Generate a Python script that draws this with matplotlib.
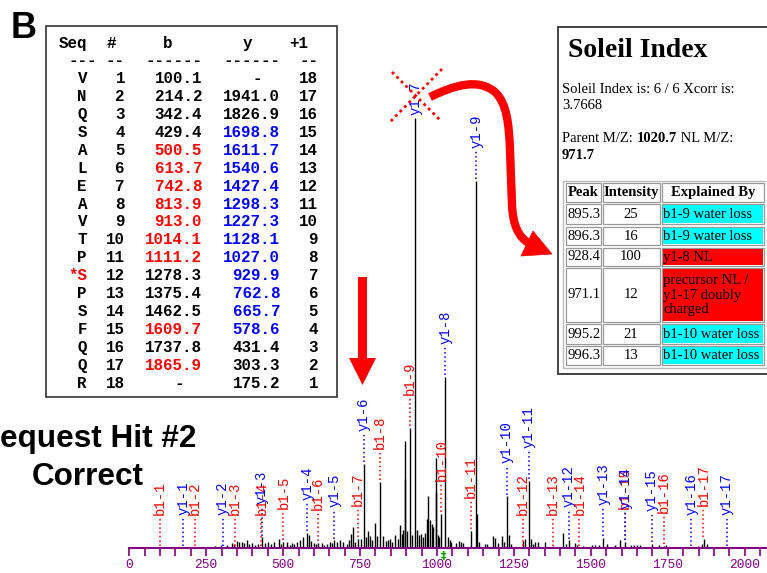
import numpy as np
import matplotlib
matplotlib.use('Agg')
import matplotlib.pyplot as plt
from matplotlib.patches import Rectangle, FancyArrow, PathPatch, Polygon
from matplotlib.path import Path

# peptide / fragment table
seq = list('VNQSALEAVTPSPSFQQR')
phospho_pos = 12
b_ions = [100.1, 214.2, 342.4, 429.4, 500.5, 613.7, 742.8, 813.9, 913.0, 1014.1,
          1111.2, 1278.3, 1375.4, 1462.5, 1609.7, 1737.8, 1865.9]
y_ions = [175.2, 303.3, 431.4, 578.6, 665.7, 762.8, 929.9, 1027.0, 1128.1, 1227.3,
          1298.3, 1427.4, 1540.6, 1611.7, 1698.8, 1826.9, 1941.0]
b_hit = [5, 6, 7, 8, 9, 10, 11, 15, 17]
y_hit = list(range(3, 15))

# spectrum peaks (m/z, relative intensity %)
peak_mz = [280, 298, 318, 335, 340, 350, 358, 366, 373, 381, 390, 398, 410, 418, 431.4, 442,
           451, 460, 470, 487, 494, 500, 513, 521, 528, 536, 545, 556, 565, 578, 583, 590,
           600, 607, 614, 625, 633, 643, 652, 660, 666, 675, 685, 696, 706, 714, 722, 728,
           735, 744, 754, 763, 770, 777, 782, 790, 798, 806, 814, 825, 833, 840, 846, 855,
           863, 872, 880, 886, 891, 895.3, 896.3, 903, 913, 918, 928.4, 935, 941, 947, 955,
           960, 966, 971.1, 977, 983, 988, 995.2, 996.3, 1003, 1008, 1014.1, 1027.0, 1037,
           1042, 1047, 1063, 1070, 1078, 1085, 1111.2, 1128.1, 1131, 1137, 1156, 1163, 1183,
           1188, 1199, 1210, 1219, 1227.3, 1233, 1240, 1280, 1286, 1298.3, 1305, 1312, 1318,
           1329, 1351, 1378, 1410, 1418, 1428, 1449, 1455, 1476, 1503, 1515, 1525, 1541,
           1551, 1578, 1595, 1611, 1630, 1640, 1650, 1660, 1699, 1722, 1738, 1745, 1849,
           1860, 1867, 1876]
peak_int = [0.5, 0.8, 0.6, 1.2, 1.0, 1.6, 1.3, 1.5, 1.2, 1.8, 0.9, 1.1, 0.8, 1.0, 2.5, 1.1,
            1.3, 0.9, 1.4, 2.1, 1.0, 1.5, 1.5, 0.8, 1.2, 1.0, 1.4, 1.8, 2.5, 3.5, 3.0, 1.6,
            1.2, 0.9, 1.2, 1.1, 0.8, 1.0, 1.3, 1.2, 1.8, 1.4, 1.9, 1.5, 1.0, 1.8, 3.3, 4.9,
            1.5, 2.2, 2.0, 19.5, 2.5, 3.9, 2.7, 1.8, 5.8, 2.7, 15.3, 2.7, 1.6, 1.9, 2.0, 1.4,
            3.0, 2.2, 5.4, 3.3, 4.3, 25, 16, 4.0, 28, 3.0, 100, 4.3, 3.0, 3.2, 2.5,
            3.5, 6.7, 12, 6.6, 5.5, 4.8, 21, 13, 3.0, 2.5, 8.0, 39.8, 2.5,
            1.8, 1.5, 1.2, 1.6, 1.4, 1.2, 4.0, 85.3, 8.0, 1.5, 1.0, 1.0, 2.9,
            2.3, 1.2, 2.9, 1.5, 12, 3.0, 1.0, 1.6, 2.0, 15.6, 2.1, 1.0, 1.5,
            1.5, 1.5, 0.5, 3.5, 1.0, 1.8, 1.2, 0.8, 0.5, 0.8, 0.7, 0.8, 2.3,
            1.0, 0.8, 1.9, 1.5, 0.6, 0.8, 0.7, 0.6, 1.0, 0.8, 0.5, 0.6, 0.5,
            1.0, 2.1, 0.9]
precursor_mz = 1020.7

# Soleil index table
sol_peak = ['895.3', '896.3', '928.4', '971.1', '995.2', '996.3']
sol_int = ['25', '16', '100', '12', '21', '13']
sol_expl = ['b1-9 water loss', 'b1-9 water loss', 'y1-8 NL',
            'precursor NL /\ny1-17 doubly\ncharged', 'b1-10 water loss', 'b1-10 water loss']
sol_nl = [False, False, True, True, False, False]

W, H = 767, 573
x0px, ppu, base_px, full_px = 129.3, 0.3077, 548, 430
RED, BLUE, PURPLE = '#ff0000', '#0000ff', '#800080'
MONO, SANS, SERIF = 'Liberation Mono', 'Liberation Sans', 'Liberation Serif'

fig = plt.figure(figsize=(W / 100, H / 100), dpi=100)

# ---- spectrum
ax = fig.add_axes([x0px / W, (H - base_px) / H, (W - x0px) / W, (base_px - 20) / H])
ax.set_xlim(0, (W - x0px) / ppu)
ax.set_ylim(0, (base_px - 20) / full_px * 100)
ax.vlines(peak_mz, 0, peak_int, color='black', lw=1)
for s in ['left', 'top', 'right']:
    ax.spines[s].set_visible(False)
ax.spines['bottom'].set_color(PURPLE)
ax.spines['bottom'].set_linewidth(1.5)
ax.set_yticks([])
ticks = np.arange(0, 2051, 50)
ax.set_xticks(ticks)
ax.set_xticklabels([str(t) if t % 250 == 0 else '' for t in ticks],
                   fontfamily=MONO, fontsize=9.3, color=PURPLE)
ax.tick_params(axis='x', colors=PURPLE, length=6, width=1.2, pad=2)
ax.patch.set_alpha(0)

gap = 33 / full_px * 100
cap = 100.7


def matched_height(mz):
    near = [h for m, h in zip(peak_mz, peak_int) if abs(m - mz) <= 1.5]
    return max(near, default=0)


labels = [('b1-%d' % (i + 1), m, RED) for i, m in enumerate(b_ions)] + \
         [('y1-%d' % (i + 1), m, BLUE) for i, m in enumerate(y_ions)]
for name, mz, col in labels:
    h = matched_height(mz)
    base = min(h + gap, cap)
    if base > h + 1:
        ax.plot([mz, mz], [h + 0.4, base - 0.3], color=col, lw=1.1, ls=(0, (1, 1.8)))
    ax.text(mz, base, name, rotation=90, ha='center', va='bottom', color=col,
            fontsize=10, family=MONO, clip_on=False)

# ---- overlay in pixel coordinates
ov = fig.add_axes([0, 0, 1, 1], zorder=5)
ov.set_xlim(0, W)
ov.set_ylim(H, 0)
ov.axis('off')
ov.patch.set_alpha(0)

ov.text(x0px + precursor_mz * ppu, 556, '\u2021', color='#00a000', fontsize=8,
        fontweight='bold', ha='center', va='center')

ov.text(11, 38, 'B', fontsize=26, fontweight='bold', family=SANS)
ov.text(88, 447, 'Sequest Hit #2', fontsize=22.7, fontweight='bold', family=SANS, ha='center')
ov.text(88, 485, 'Correct', fontsize=22.7, fontweight='bold', family=SANS, ha='center')

# fragment table box
ov.add_patch(Rectangle((45.5, 26), 291, 371, fc='white', ec='#333333', lw=1.2))
tkw = dict(family=MONO, fontweight='bold', fontsize=11.4, va='baseline')
ov.text(87, 48.3, 'Seq', ha='right', **tkw)
ov.text(111, 48.3, '#', ha='center', **tkw)
ov.text(168, 48.3, 'b', ha='center', **tkw)
ov.text(247, 48.3, 'y', ha='center', **tkw)
ov.text(299, 48.3, '+1', ha='center', **tkw)
for xr, d in [(97, '---'), (125, '--'), (202, '------'), (280, '------'), (318, '--')]:
    ov.text(xr, 65, d, ha='right', **tkw)
b_col = b_ions + [None]
y_col = [None] + y_ions[::-1]
n = len(seq)
for i in range(n):
    yb = 83.3 + 17.9 * i
    k = i + 1
    res = '*' + seq[i] if k == phospho_pos else seq[i]
    ov.text(87, yb, res, ha='right', color=RED if k == phospho_pos else 'black', **tkw)
    ov.text(125, yb, str(k), ha='right', **tkw)
    if b_col[i] is None:
        ov.text(179, yb, '-', ha='center', **tkw)
    else:
        ov.text(202, yb, '%.1f' % b_col[i], ha='right',
                color=RED if k in b_hit else 'black', **tkw)
    yi = n - k
    if y_col[i] is None:
        ov.text(257, yb, '-', ha='center', **tkw)
    else:
        ov.text(280, yb, '%.1f' % y_col[i], ha='right',
                color=BLUE if yi in y_hit else 'black', **tkw)
    ov.text(318, yb, str(n + 1 - k), ha='right', **tkw)

# arrows and cross
ov.add_patch(FancyArrow(362.5, 277, 0, 108, width=9, head_width=27, head_length=27,
                        length_includes_head=True, color=RED, lw=0))
ov.plot([392, 440], [72, 120], color=RED, lw=2, ls=(0, (1, 1.3)))
ov.plot([442, 390], [69, 122], color=RED, lw=2, ls=(0, (1, 1.3)))
verts = [(430, 97), (455, 85), (478, 78), (495, 92), (507, 103), (509, 125), (510, 150),
         (512, 205), (513, 225), (518, 237), (530, 244)]
codes = [Path.MOVETO] + [Path.CURVE4] * 6 + [Path.LINETO] + [Path.CURVE4] * 3
ov.add_patch(PathPatch(Path(verts, codes), fc='none', ec=RED, lw=6, capstyle='butt'))
ov.add_patch(Polygon([(552, 254), (533, 231), (521, 256)], closed=True, fc=RED, ec=RED, lw=0.5))

# Soleil box
ov.add_patch(Rectangle((558, 27), 220, 347, fc='white', ec='#444444', lw=1.4))
ov.text(568, 57, 'Soleil Index', family=SERIF, fontweight='bold', fontsize=20)
skw = dict(family=SERIF, fontsize=10.5)
ov.text(562, 93, 'Soleil Index is: 6 / 6 Xcorr is:', va='baseline', **skw)
ov.text(562, 109, '3.7668', va='baseline', **skw)
t1 = ov.text(562, 142, 'Parent M/Z: ', va='baseline', **skw)
t2 = ov.annotate('1020.7', xy=(1, 0), xycoords=t1, va='bottom', ha='left',
                 fontweight='bold', **skw)
ov.annotate(' NL M/Z:', xy=(1, 0), xycoords=t2, va='bottom', ha='left', **skw)
ov.text(562, 159, '971.7', fontweight='bold', va='baseline', **skw)

ov.add_patch(Rectangle((563, 181), 210, 187, fc='white', ec='#bbbbbb', lw=1))
cols = [(566, 601), (603, 660), (662, 764)]
rows = [(183, 202), (204, 224), (227, 245), (248, 266), (268, 322), (324, 344), (346, 365)]
for (ya, yb2) in rows:
    for (xa, xb) in cols:
        ov.add_patch(Rectangle((xa, ya), xb - xa, yb2 - ya, fc='none', ec='#999999', lw=0.9))
hkw = dict(family=SERIF, fontsize=10.5, fontweight='bold', ha='center', va='center')
ya, yb2 = rows[0]
for (xa, xb), txt in zip(cols, ['Peak', 'Intensity', 'Explained By']):
    ov.text((xa + xb) / 2, (ya + yb2) / 2, txt, **hkw)
ckw = dict(family=SERIF, fontsize=10.5, va='center')
for j in range(len(sol_peak)):
    ya, yb2 = rows[j + 1]
    yc = (ya + yb2) / 2
    xa, xb = cols[2]
    ov.add_patch(Rectangle((xa + 1, ya + 1), xb - xa - 2, yb2 - ya - 2,
                           fc=RED if sol_nl[j] else '#00ffff', ec='none'))
    ov.text(567, yc, sol_peak[j], ha='left', **ckw)
    ov.text(631, yc, sol_int[j], ha='center', **ckw)
    ov.text(663, yc, sol_expl[j], ha='left', linespacing=1.15, **ckw)

fig.savefig('out.png', dpi=100)
